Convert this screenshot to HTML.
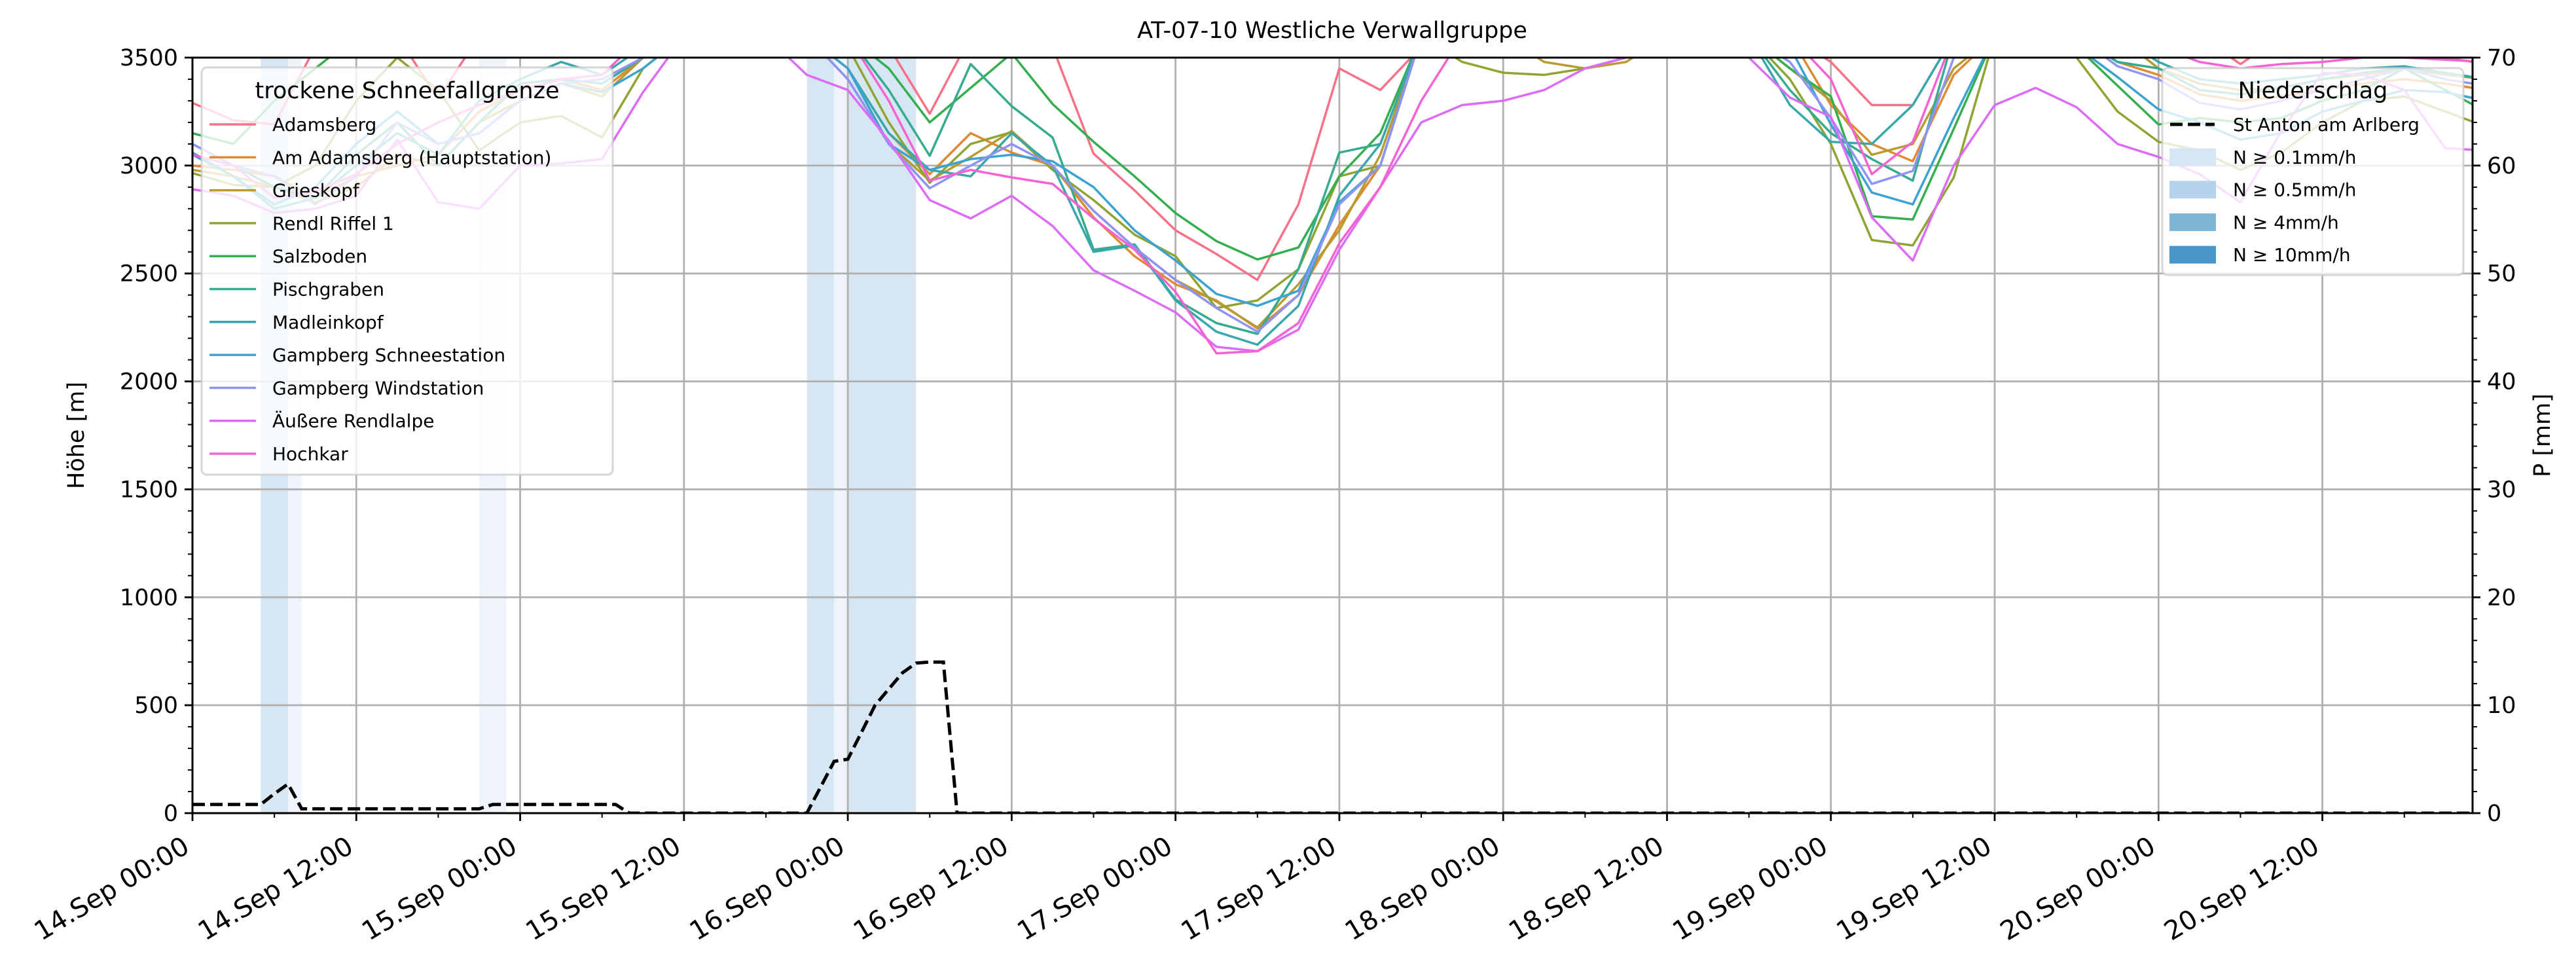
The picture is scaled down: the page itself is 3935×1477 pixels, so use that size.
<!DOCTYPE html>
<html><head><meta charset="utf-8"><style>
html,body{margin:0;padding:0;background:#fff;}
svg{display:block;font-family:"DejaVu Sans","Liberation Sans",sans-serif;}
</style></head><body>
<svg id="chart" width="3935" height="1477" viewBox="0 0 3935 1477" xmlns="http://www.w3.org/2000/svg">
<defs><clipPath id="plotclip"><rect x="294" y="88" width="3483" height="1154"/></clipPath></defs>
<rect width="3935" height="1477" fill="#fff"/>
<text x="2035" y="58" font-size="35" text-anchor="middle">AT-07-10 Westliche Verwallgruppe</text>
<g id="bands" clip-path="url(#plotclip)"></g>
<g id="grid"></g>
<g id="series" clip-path="url(#plotclip)"></g>
<g id="precip" clip-path="url(#plotclip)"></g>
<g id="axes"></g>
<g id="legends"></g>
</svg>
<script>
const NS="http://www.w3.org/2000/svg";
// ---- data ----
const hourStep = 3;
const stationNames = ["Adamsberg","Am Adamsberg (Hauptstation)","Grieskopf","Rendl Riffel 1","Salzboden","Pischgraben","Madleinkopf","Gampberg Schneestation","Gampberg Windstation","Äußere Rendlalpe","Hochkar"];
const stationColors = ["#f77189","#e08a31","#b89b31","#8ea531","#34af4f","#36ab8f","#38a8ad","#3ba3d1","#8f93f4","#dc6cf4","#f562d2"];
const adamsberg = [3290,3210,3190,3550,3600,3600,3310,3600,3600,3600, 3600,3600,3600,3600,3600,3600,3600,3550,3240,3600, 3600,3550,3055,2885,2700,2590,2470,2820,3450,3350, 3550,3600,3600,3600,3600,3600,3600,3600,3600,3600, 3480,3280,3280,3600,3600,3600,3600,3600,3600,3600, 3470,3600,3600,3600,3600,3500,3470];
const amAdamsberg = [3000,2980,2950,2850,2950,3000,3050,3250,3350,3400, 3350,3500,3600,3600,3600,3600,3450,3150,2960,3150, 3060,3000,2760,2580,2450,2375,2245,2400,2725,3000, 3600,3600,3600,3600,3600,3600,3600,3600,3600,3600, 3280,3100,3020,3420,3600,3600,3600,3480,3420,3330, 3300,3320,3350,3380,3400,3380,3350];
const grieskopf = [2980,2950,2900,2830,2900,3050,3000,3200,3300,3380, 3320,3500,3600,3600,3600,3600,3400,3100,2930,3040, 3160,2990,2790,2620,2470,2370,2250,2450,2700,3050, 3600,3600,3600,3480,3450,3480,3600,3600,3600,3450, 3300,3050,3100,3450,3600,3600,3600,3600,3450,3380, 3350,3360,3400,3420,3450,3420,3400];
const rendlRiffel = [2965,2910,2900,3000,3300,3500,3350,3070,3200,3230, 3130,3450,3600,3600,3600,3500,3550,3200,2920,3100, 3155,2980,2840,2680,2580,2340,2375,2520,2950,3000, 3600,3480,3430,3420,3450,3500,3600,3600,3600,3400, 3100,2655,2630,2945,3600,3600,3500,3250,3110,3070, 2980,3060,3200,3300,3320,3250,3180];
const salzboden = [3150,3100,3300,3450,3600,3600,3600,3600,3600,3600, 3600,3600,3600,3600,3600,3600,3600,3450,3200,3360, 3520,3285,3110,2950,2780,2650,2565,2620,2950,3150, 3600,3600,3600,3600,3600,3600,3600,3600,3600,3450, 3320,2765,2750,3170,3600,3600,3550,3370,3190,3220, 3200,3220,3300,3350,3450,3350,3250];
const pischgraben = [3100,3000,2900,2850,3050,3200,3000,3200,3380,3400, 3380,3500,3600,3600,3600,3600,3600,3350,3045,3470, 3275,3130,2610,2635,2380,2270,2220,2520,3060,3100, 3600,3600,3600,3600,3600,3600,3600,3600,3600,3350, 3150,3030,2930,3600,3600,3600,3600,3480,3450,3350, 3330,3360,3400,3430,3450,3430,3400];
const madleinkopf = [3060,2950,2800,2850,3000,3150,3050,3300,3400,3480, 3420,3550,3600,3600,3600,3600,3450,3150,2980,2950, 3150,3000,2600,2630,2375,2230,2170,2350,2860,3100, 3600,3600,3600,3600,3600,3600,3600,3600,3600,3280, 3110,3100,3280,3600,3600,3600,3600,3600,3480,3400, 3380,3400,3420,3450,3460,3430,3400];
const gampbergSchnee = [3050,2950,2820,2900,3100,3250,3100,3150,3300,3380, 3340,3450,3600,3600,3600,3600,3450,3100,2980,3030, 3050,3020,2900,2700,2560,2405,2350,2420,2830,3000, 3600,3600,3600,3600,3600,3600,3600,3600,3600,3550, 3190,2875,2820,3220,3600,3600,3550,3410,3260,3200, 3120,3150,3250,3300,3350,3340,3300];
const gampbergWind = [3100,3000,2950,2820,2950,3200,3100,3150,3300,3380, 3400,3500,3600,3600,3600,3600,3400,3100,2895,3000, 3100,3000,2790,2620,2470,2340,2230,2400,2820,3000, 3600,3600,3600,3600,3600,3600,3600,3600,3600,3480, 3220,2915,2975,3500,3600,3600,3600,3460,3400,3290, 3260,3300,3350,3400,3450,3400,3370];
const aeussereRendlalpe = [2890,2860,2780,2800,2860,3120,2830,2800,3000,3010, 3030,3340,3600,3600,3600,3420,3350,3115,2840,2755, 2860,2720,2515,2420,2320,2160,2140,2240,2610,2900, 3200,3280,3300,3350,3450,3500,3600,3600,3500,3315, 3225,2760,2560,3000,3280,3360,3270,3100,3040,2960, 2830,3160,3430,3420,3350,3080,3070];
const hochkar = [3050,3000,2850,2880,2960,3100,3200,3280,3350,3400, 3420,3600,3600,3600,3600,3600,3600,3300,2930,2980, 2945,2915,2755,2610,2415,2130,2140,2270,2640,2900, 3300,3600,3600,3600,3600,3600,3600,3600,3600,3600, 3400,2960,3110,3600,3600,3600,3600,3600,3550,3480, 3450,3470,3480,3500,3500,3490,3480];
const stationSeries = [adamsberg,amAdamsberg,grieskopf,rendlRiffel,salzboden,pischgraben,madleinkopf,gampbergSchnee,gampbergWind,aeussereRendlalpe,hochkar];
// hourly precipitation St Anton [mm], hour 0..167
const precipHourly = [0.8,0.8,0.8,0.8,0.8,0.8,1.8,2.7,
0.4,0.4,0.4,0.4,0.4,0.4,0.4,0.4,0.4,0.4,0.4,0.4,0.4,0.4,
0.8,0.8,0.8,0.8,0.8,0.8,0.8,0.8,0.8,0.8,
0,0,0,0,0,0,0,0,0,0,0,0,0,0,
2.4,4.8,5.0,7.5,10,11.5,13,13.9,14,14,0,
0,0,0,0,0,0,0,0,0,0,0,0,0,0,0,0,0,0,0,0,0,0,0,0,0,0,0,0,0,0,
0,0,0,0,0,0,0,0,0,0,0,0,0,0,0,0,0,0,0,0,0,0,0,0,0,0,0,0,0,0,
0,0,0,0,0,0,0,0,0,0,0,0,0,0,0,0,0,0,0,0,0,0,0,0,0,0,0,0,0,0,
0,0,0,0,0,0,0,0,0,0,0,0,0,0,0,0,0,0,0,0,0,0,0,0,0,0,0,0,0,0,
0];
const bandStart = [5,7,21,45,47,48];
const bandEnd = [7,8,23,47,48,53];
const bandLevel = [0.5,0.1,0.1,0.5,0.1,0.5];
const xTickLabels = ["14.Sep 00:00","14.Sep 12:00","15.Sep 00:00","15.Sep 12:00","16.Sep 00:00","16.Sep 12:00","17.Sep 00:00","17.Sep 12:00","18.Sep 00:00","18.Sep 12:00","19.Sep 00:00","19.Sep 12:00","20.Sep 00:00","20.Sep 12:00"];
const yTicks = [0,500,1000,1500,2000,2500,3000,3500];
const pTicks = [0,10,20,30,40,50,60,70];
const precipLegendLabels = ["N ≥ 0.1mm/h","N ≥ 0.5mm/h","N ≥ 4mm/h","N ≥ 10mm/h"];
const precipLegendColors = ["#d7e6f4","#b5d3ea","#80b5d8","#4a96c8"];

// ---- scales ----
const L=294,R=3777,T=88,B=1242, XMAX=167, YMAX=3500, PMAX=70;
const xs=h=>L+(h/XMAX)*(R-L);
const ys=v=>B-(v/YMAX)*(B-T);
const ps=p=>B-(p/PMAX)*(B-T);
function mk(tag,attrs,parent){const e=document.createElementNS(NS,tag);for(const k in attrs)e.setAttribute(k,attrs[k]);parent.appendChild(e);return e;}
const gB=document.getElementById('bands'),gG=document.getElementById('grid'),gS=document.getElementById('series'),gP=document.getElementById('precip'),gA=document.getElementById('axes'),gL=document.getElementById('legends');

// bands
const bandColor={0.1:"#eef4fa",0.5:"#d6e6f3"};
for(let i=0;i<bandStart.length;i++){
  const r=mk('rect',{x:xs(bandStart[i]),y:T,width:xs(bandEnd[i])-xs(bandStart[i]),height:B-T,fill:bandColor[bandLevel[i]]},gB);
  
  
}
// grid
for(let i=0;i<xTickLabels.length;i++){const x=xs(i*12);mk('line',{x1:x,x2:x,y1:T,y2:B,stroke:'#b0b0b0','stroke-width':2.8},gG);}
yTicks.forEach(v=>{mk('line',{x1:L,x2:R,y1:ys(v),y2:ys(v),stroke:'#b0b0b0','stroke-width':2.8},gG);});

// series
stationSeries.forEach((arr,si)=>{
  const pts=arr.map((v,i)=>xs(i*hourStep).toFixed(1)+','+ys(v).toFixed(1)).join(' ');
  const pl=mk('polyline',{points:pts,fill:'none',stroke:stationColors[si],'stroke-width':3.5,'stroke-linejoin':'round'},gS);
  
  
});
// precip line
{
  const pts=precipHourly.map((p,i)=>xs(i).toFixed(1)+','+ps(p).toFixed(1)).join(' ');
  const pl=mk('polyline',{points:pts,fill:'none',stroke:'#000','stroke-width':5,'stroke-dasharray':'19,8'},gP);
  
  
}

// axes
mk('rect',{x:L,y:T,width:R-L,height:B-T,fill:'none',stroke:'#000','stroke-width':3},gA);
for(let h=0;h<=XMAX;h+=6){const x=xs(h);const major=h%12===0;mk('line',{x1:x,x2:x,y1:B,y2:B+(major?12:7),stroke:'#000','stroke-width':major?2.8:2},gA);}
xTickLabels.forEach((lab,i)=>{
  const x=xs(i*12)-2,y=B+58;
  const t=mk('text',{x:x,y:y,'font-size':40,'text-anchor':'end',transform:`rotate(-31 ${x} ${y})`},gA);
  t.textContent=lab;
  
  
});
for(let v=0;v<=YMAX;v+=100){const y=ys(v);const major=v%500===0;mk('line',{x1:L,x2:L-(major?12:7),y1:y,y2:y,stroke:'#000','stroke-width':major?2.8:2},gA);}
yTicks.forEach(v=>{
  const t=mk('text',{x:L-22,y:ys(v)+12,'font-size':35,'text-anchor':'end'},gA);
  t.textContent=v;
  
  
});
for(let p=0;p<=PMAX;p+=2){const y=ps(p);const major=p%10===0;mk('line',{x1:R,x2:R+(major?12:7),y1:y,y2:y,stroke:'#000','stroke-width':major?2.8:2},gA);}
pTicks.forEach(p=>{
  const t=mk('text',{x:R+22,y:ps(p)+12,'font-size':35,'text-anchor':'start'},gA);
  t.textContent=p;
  
  
});
{
  const t=mk('text',{x:128,y:665,'font-size':35,'text-anchor':'middle',transform:'rotate(-90 128 665)'},gA);
  t.textContent='Höhe [m]';
  
  
  const t2=mk('text',{x:3895,y:665,'font-size':35,'text-anchor':'middle',transform:'rotate(-90 3895 665)'},gA);
  t2.textContent='P [mm]';
  
  
}

// legend 1
{
  const g=mk('g',{},gL);
  
  
  mk('rect',{x:308,y:103,width:628,height:622,rx:8,fill:'rgba(255,255,255,0.8)',stroke:'rgba(204,204,204,0.8)','stroke-width':3},g);
  const tt=mk('text',{x:622,y:150,'font-size':35,'text-anchor':'middle'},g);tt.textContent='trockene Schneefallgrenze';
  stationNames.forEach((n,i)=>{
    const y=190+i*50.3;
    mk('line',{x1:320,x2:391,y1:y,y2:y,stroke:stationColors[i],'stroke-width':3.5},g);
    const t=mk('text',{x:416,y:y+10,'font-size':28},g);t.textContent=n;
    
    
  });
}
// legend 2
{
  const g=mk('g',{},gL);
  
  
  mk('rect',{x:3303,y:104,width:460,height:316,rx:8,fill:'rgba(255,255,255,0.8)',stroke:'rgba(204,204,204,0.8)','stroke-width':3},g);
  const tt=mk('text',{x:3533,y:150,'font-size':35,'text-anchor':'middle'},g);tt.textContent='Niederschlag';
  mk('line',{x1:3315,x2:3383,y1:190,y2:190,stroke:'#000','stroke-width':5,'stroke-dasharray':'19,8'},g);
  const t0=mk('text',{x:3411,y:200,'font-size':28},g);t0.textContent='St Anton am Arlberg';
  
  
  precipLegendLabels.forEach((lab,i)=>{
    const y=240+i*49.7;
    mk('rect',{x:3314,y:y-13.5,width:71,height:27,fill:precipLegendColors[i]},g);
    const t=mk('text',{x:3411,y:y+10,'font-size':28},g);t.textContent=lab;
    
    
  });
}
</script>
</body></html>
